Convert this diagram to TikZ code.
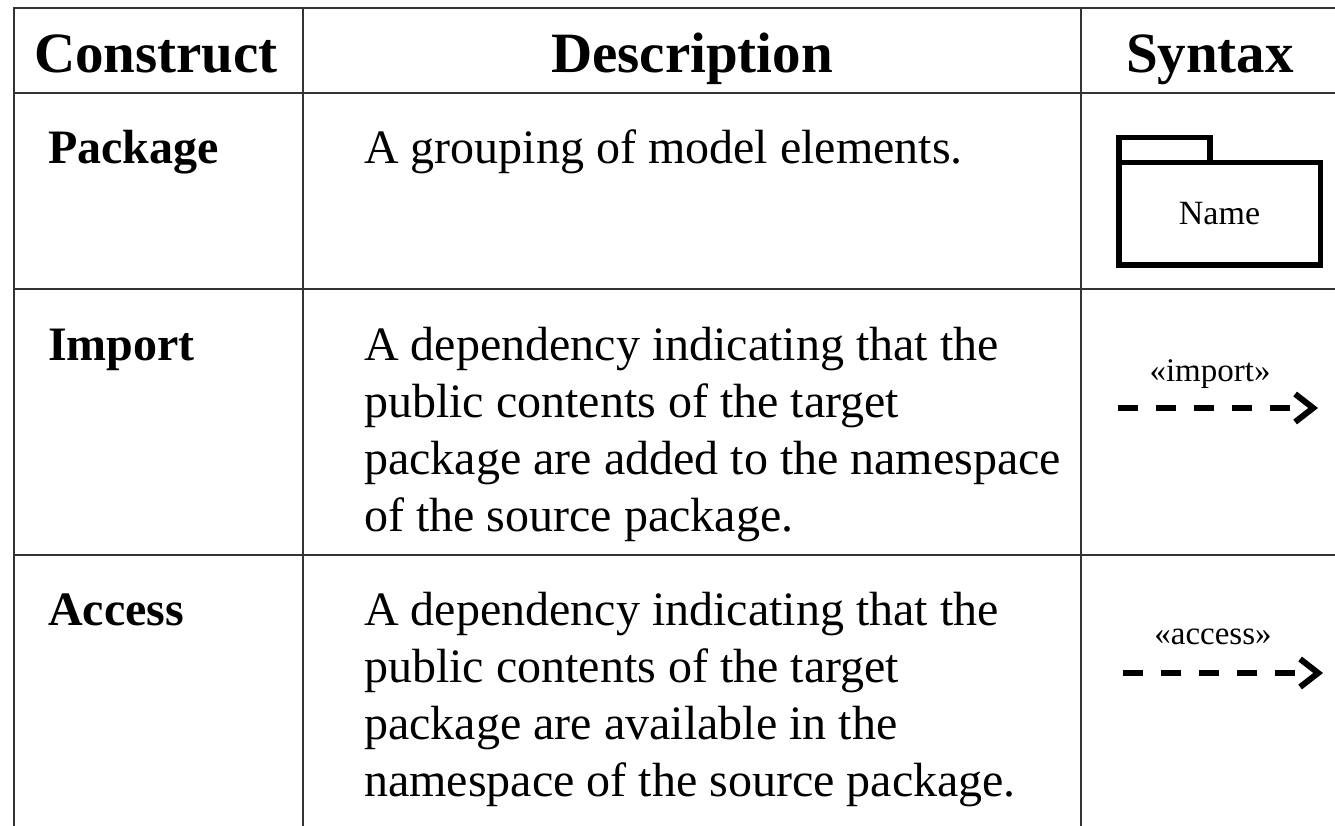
\documentclass[tikz,border=0pt]{standalone}
\usepackage{fontspec}
\setmainfont{Liberation Serif}
\usetikzlibrary{arrows.meta}
\newcommand{\desclines}[1]{\parbox[t]{740pt}{\fontsize{48}{57}\selectfont\raggedright #1}}
\begin{document}
\begin{tikzpicture}[x=1pt,y=-1pt,
  rule/.style={draw=black!80,line width=2.6pt},
  hdr/.style={font=\fontsize{57}{68}\selectfont\bfseries,inner sep=0pt,anchor=base},
  cname/.style={font=\fontsize{48}{57}\selectfont\bfseries,inner sep=0pt,anchor=base west},
  desc/.style={font=\fontsize{48}{57}\selectfont,inner sep=0pt,anchor=base west},
  stereo/.style={font=\fontsize{33}{40}\selectfont,inner sep=0pt,anchor=base},
  pkgbox/.style={draw=black,line width=5.5pt,line join=miter,inner sep=0pt,outer sep=0pt,
    minimum width=201.5pt,minimum height=102.5pt,font=\fontsize{34}{40}\selectfont},
  dep/.style={draw=black,line width=6pt,dash pattern=on 20pt off 18pt,
    -{Straight Barb[length=18pt,width=28pt]}}
]
\useasboundingbox (0,0) rectangle (1335,826);
\fill[white] (0,0) rectangle (1335,826);
\clip (0,0) rectangle (1335,826);
% table rules
\draw[rule] (1345,8) -- (14,8) -- (14,840);
\draw[rule] (303,8) -- (303,840);
\draw[rule] (1081,8) -- (1081,840);
\draw[rule] (14,93) -- (1345,93);
\draw[rule] (14,289) -- (1345,289);
\draw[rule] (14,555) -- (1345,555);
% header
\node[hdr] (h1) at (156,73) {Construct};
\node[hdr] (h2) at (692,73) {Description};
\node[hdr] (h3) at (1210,73) {Syntax};
% construct names
\node[cname] (c1) at (48,164) {Package};
\node[cname] (c2) at (48,360) {Import};
\node[cname] (c3) at (48,625) {Access};
% descriptions
\node[desc] (d1) at (364,164) {\desclines{A grouping of model elements.}};
\node[desc] (d2) at (364,360) {\desclines{A dependency indicating that the\\public contents of the target\\package are added to the namespace\\of the source package.}};
\node[desc] (d3) at (364,625) {\desclines{A dependency indicating that the\\public contents of the target\\package are available in the\\namespace of the source package.}};
% package symbol
\node[pkgbox] (pkg) at (1219.5,214) {Name};
\draw[draw=black,line width=5.5pt,line join=miter]
  (pkg.north west) -- ++(0,-25.25) -- ++(91,0) -- ++(0,25.25);
% import
\node[stereo] (simp) at (1210,381) {«import»};
\coordinate (i1) at (1118,408);
\coordinate (i2) at (1318,408);
\draw[dep] (i1) -- (i2);
% access
\node[stereo] (sacc) at (1213,644) {«access»};
\coordinate (a1) at (1123,673);
\coordinate (a2) at (1323,673);
\draw[dep] (a1) -- (a2);
\end{tikzpicture}
\end{document}
